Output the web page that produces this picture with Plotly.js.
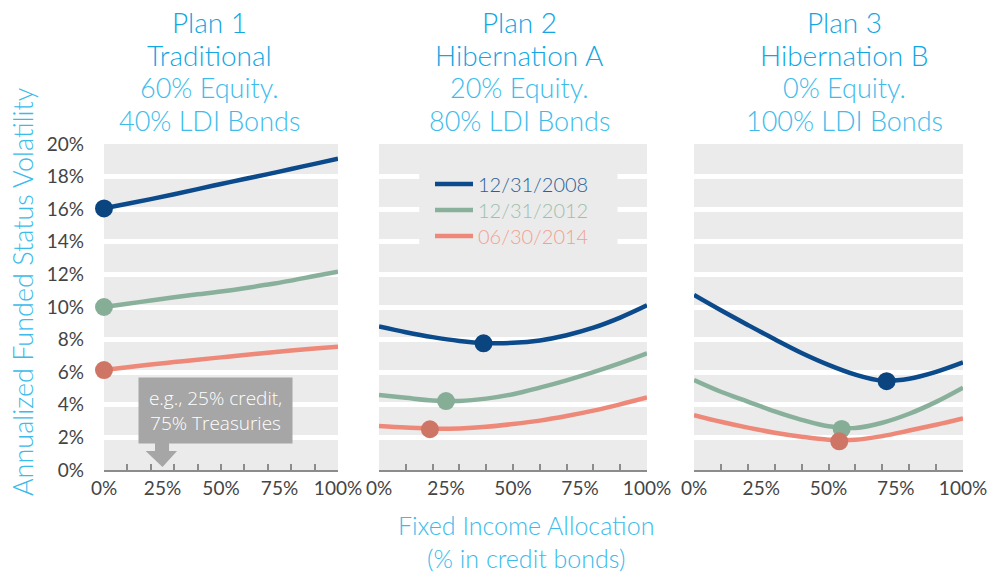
<!DOCTYPE html>
<html>
<head>
<meta charset="utf-8">
<script src="https://cdn.plot.ly/plotly-3.0.1.min.js"></script>
<style>html,body{margin:0;padding:0;background:#fff;}#chart{width:988px;height:573px;}</style>
</head>
<body>
<div id="chart"></div>
<script>
// ---- data ----
const allocation = [0, 10, 20, 30, 40, 50, 60, 70, 80, 90, 100];
const seriesNames = ['12/31/2008', '12/31/2012', '06/30/2014'];
const allocTicks = [0, 25, 50, 75, 100];
const allocTickText = ['0%', '25%', '50%', '75%', '100%'];
const volTicks = [0, 2, 4, 6, 8, 10, 12, 14, 16, 18, 20];

const plan1_2008 = [16.05, 16.33, 16.62, 16.92, 17.23, 17.55, 17.85, 18.15, 18.47, 18.78, 19.1];
const plan1_2012 = [10.0, 10.2, 10.4, 10.6, 10.78, 10.95, 11.15, 11.38, 11.62, 11.9, 12.17];
const plan1_2014 = [6.13, 6.3, 6.47, 6.62, 6.77, 6.91, 7.05, 7.2, 7.33, 7.45, 7.56];

const plan2_2008 = [8.8, 8.45, 8.15, 7.92, 7.79, 7.8, 7.95, 8.27, 8.73, 9.35, 10.1];
const plan2_2012 = [4.6, 4.43, 4.27, 4.24, 4.38, 4.65, 5.05, 5.5, 6.0, 6.55, 7.15];
const plan2_2014 = [2.7, 2.6, 2.53, 2.55, 2.65, 2.82, 3.03, 3.31, 3.64, 4.03, 4.45];

const plan3_2008 = [10.74, 9.8, 8.9, 8.02, 7.18, 6.45, 5.85, 5.48, 5.6, 6.02, 6.6];
const plan3_2012 = [5.52, 4.8, 4.2, 3.6, 3.08, 2.68, 2.58, 2.9, 3.45, 4.18, 5.05];
const plan3_2014 = [3.37, 2.96, 2.6, 2.29, 2.04, 1.86, 1.85, 2.08, 2.42, 2.78, 3.17];

// selected (optimal) points per plan: [2008, 2012, 2014]
const plan1OptX = [0, 0, 0];
const plan1OptY = [16.05, 10.0, 6.13];
const plan2OptX = [39, 25, 19];
const plan2OptY = [7.77, 4.23, 2.5];
const plan3OptX = [71.6, 54.9, 54];
const plan3OptY = [5.45, 2.52, 1.76];

const planTitles = [
  ['Plan 1', 'Traditional', '60% Equity.', '40% LDI Bonds'],
  ['Plan 2', 'Hibernation A', '20% Equity.', '80% LDI Bonds'],
  ['Plan 3', 'Hibernation B', '0% Equity.', '100% LDI Bonds']
];

// ---- styles ----
const lineColors = ['#0b4a8b', '#89b09b', '#ee8878'];
const markerColors = ['#0a4580', '#86ae97', '#cf7565'];
const legendTextColors = ['#2a5f96', '#9dc0ad', '#f2a08f'];
const W = 988, H = 573;
const xDomains = [[104 / W, 338 / W], [379 / W, 647 / W], [694 / W, 963 / W]];
const yDomain = [(H - 470) / H, (H - 144) / H];
const titleCenters = [209, 519, 844];
const titleYs = [22, 55, 88, 120];
const legendRowYs = [184, 210, 236];
const legendIds = ['legend', 'legend2', 'legend3'];

const plans = [
  {series: [plan1_2008, plan1_2012, plan1_2014], optX: plan1OptX, optY: plan1OptY},
  {series: [plan2_2008, plan2_2012, plan2_2014], optX: plan2OptX, optY: plan2OptY},
  {series: [plan3_2008, plan3_2012, plan3_2014], optX: plan3OptX, optY: plan3OptY}
];

const traces = [];
plans.forEach((p, pi) => {
  const xa = pi === 0 ? 'x' : 'x' + (pi + 1);
  const xl = 'x' + (pi + 4);
  const ya = pi === 0 ? 'y' : 'y' + (pi + 1);
  p.series.forEach((vals, si) => {
    traces.push({
      type: 'scatter', mode: 'lines', x: allocation, y: vals,
      xaxis: xa, yaxis: ya,
      line: {color: lineColors[si], width: 4.5, shape: 'spline', smoothing: 1},
      name: '<span style="color:' + legendTextColors[si] + '">' + seriesNames[si] + '</span>',
      legend: legendIds[si],
      showlegend: pi === 0, hoverinfo: 'skip'
    });
  });
  traces.push({
    type: 'scatter', mode: 'markers', x: p.optX, y: p.optY,
    xaxis: xl, yaxis: ya, cliponaxis: false,
    marker: {color: markerColors, size: 18, line: {width: 0}},
    showlegend: false, hoverinfo: 'skip'
  });
});

const layout = {
  width: W, height: H,
  margin: {l: 0, r: 0, t: 0, b: 0},
  paper_bgcolor: '#ffffff', plot_bgcolor: '#ebebeb',
  font: {family: 'Lato, sans-serif', color: '#444'},
  showlegend: true,
  annotations: [],
  shapes: []
};
legendIds.forEach((id, k) => {
  layout[id] = {
    x: 430 / W, xanchor: 'left', y: (H - legendRowYs[k]) / H, yanchor: 'middle',
    bgcolor: 'rgba(0,0,0,0)', borderwidth: 0,
    font: {size: 20, family: 'Lato, sans-serif', weight: 300},
    itemwidth: 38
  };
});

for (let i = 0; i < 3; i++) {
  const xk = i === 0 ? 'xaxis' : 'xaxis' + (i + 1);
  const yk = i === 0 ? 'yaxis' : 'yaxis' + (i + 1);
  const yid = i === 0 ? 'y' : 'y' + (i + 1);
  const xid = i === 0 ? 'x' : 'x' + (i + 1);
  layout[xk] = {
    domain: xDomains[i], anchor: yid, range: [0, 100], fixedrange: true,
    tickmode: 'array', tickvals: allocation, ticks: 'inside', ticklen: 6, tickwidth: 2,
    tickcolor: '#8c8c8c', showticklabels: false,
    showline: true, linecolor: '#8c8c8c', linewidth: 2,
    showgrid: false, zeroline: false
  };
  layout['xaxis' + (i + 4)] = {
    overlaying: xid, anchor: yid, range: [0, 100], fixedrange: true,
    tickmode: 'array', tickvals: allocTicks, ticktext: allocTickText,
    ticks: '', showline: false, showgrid: false, zeroline: false,
    tickfont: {size: 19, color: '#444'}, ticklabelstandoff: 5
  };
  layout[yk] = {
    domain: yDomain, anchor: xid, range: [0, 20], fixedrange: true,
    tickmode: 'array', tickvals: volTicks, ticktext: volTicks.map(v => v + '%'),
    showticklabels: i === 0, ticks: '',
    tickfont: {size: 19, color: '#444'}, ticklabelstandoff: 19,
    showgrid: true, gridcolor: '#ffffff', gridwidth: 5,
    zeroline: false, showline: false
  };
  planTitles[i].forEach((t, li) => {
    layout.annotations.push({
      xref: 'paper', yref: 'paper', x: titleCenters[i] / W, y: (H - titleYs[li]) / H,
      xanchor: 'center', yanchor: 'middle', showarrow: false, text: t,
      font: {size: li < 2 ? 28 : 27, family: 'Lato, sans-serif', color: li < 2 ? '#12a6e3' : '#3dbcec', weight: 300}
    });
  });
}

// axis titles
layout.annotations.push({
  xref: 'paper', yref: 'paper', x: 22 / W, y: (H - 292) / H, xanchor: 'center', yanchor: 'middle',
  textangle: -90, showarrow: false, text: 'Annualized Funded Status Volatility',
  font: {size: 27, color: '#3bbbeb', weight: 300}
});
layout.annotations.push({
  xref: 'paper', yref: 'paper', x: 526 / W, y: (H - 541) / H, xanchor: 'center', yanchor: 'middle',
  showarrow: false, text: 'Fixed Income Allocation<br>(% in credit bonds)', borderpad: 0,
  font: {size: 25, color: '#3bbbeb', weight: 300}
});

// callout box in plan 1
layout.annotations.push({
  xref: 'x', yref: 'y', x: 47.5, y: 3.65, xanchor: 'center', yanchor: 'middle',
  showarrow: false, text: 'e.g., 25% credit,<br>75% Treasuries',
  bgcolor: '#a6a6a6', width: 147, height: 59, borderpad: 3,
  font: {size: 19, color: '#ffffff', family: 'Open Sans, sans-serif', weight: 300}
});
layout.shapes.push({
  type: 'path', xref: 'x', yref: 'y', layer: 'above',
  path: 'M 21.8,1.66 L 27.8,1.66 L 27.8,1.17 L 31.2,1.17 L 25,0.18 L 17.8,1.17 L 21.8,1.17 Z',
  fillcolor: '#a6a6a6', line: {width: 0}
});
// legend backdrop in plan 2 (hides grid lines)
layout.shapes.push({
  type: 'rect', xref: 'x2', yref: 'y2', layer: 'between',
  x0: 15, x1: 89, y0: 13, y1: 19, fillcolor: '#ebebeb', line: {width: 0}
});

Plotly.newPlot('chart', traces, layout, {staticPlot: true, displayModeBar: false});
</script>
</body>
</html>
